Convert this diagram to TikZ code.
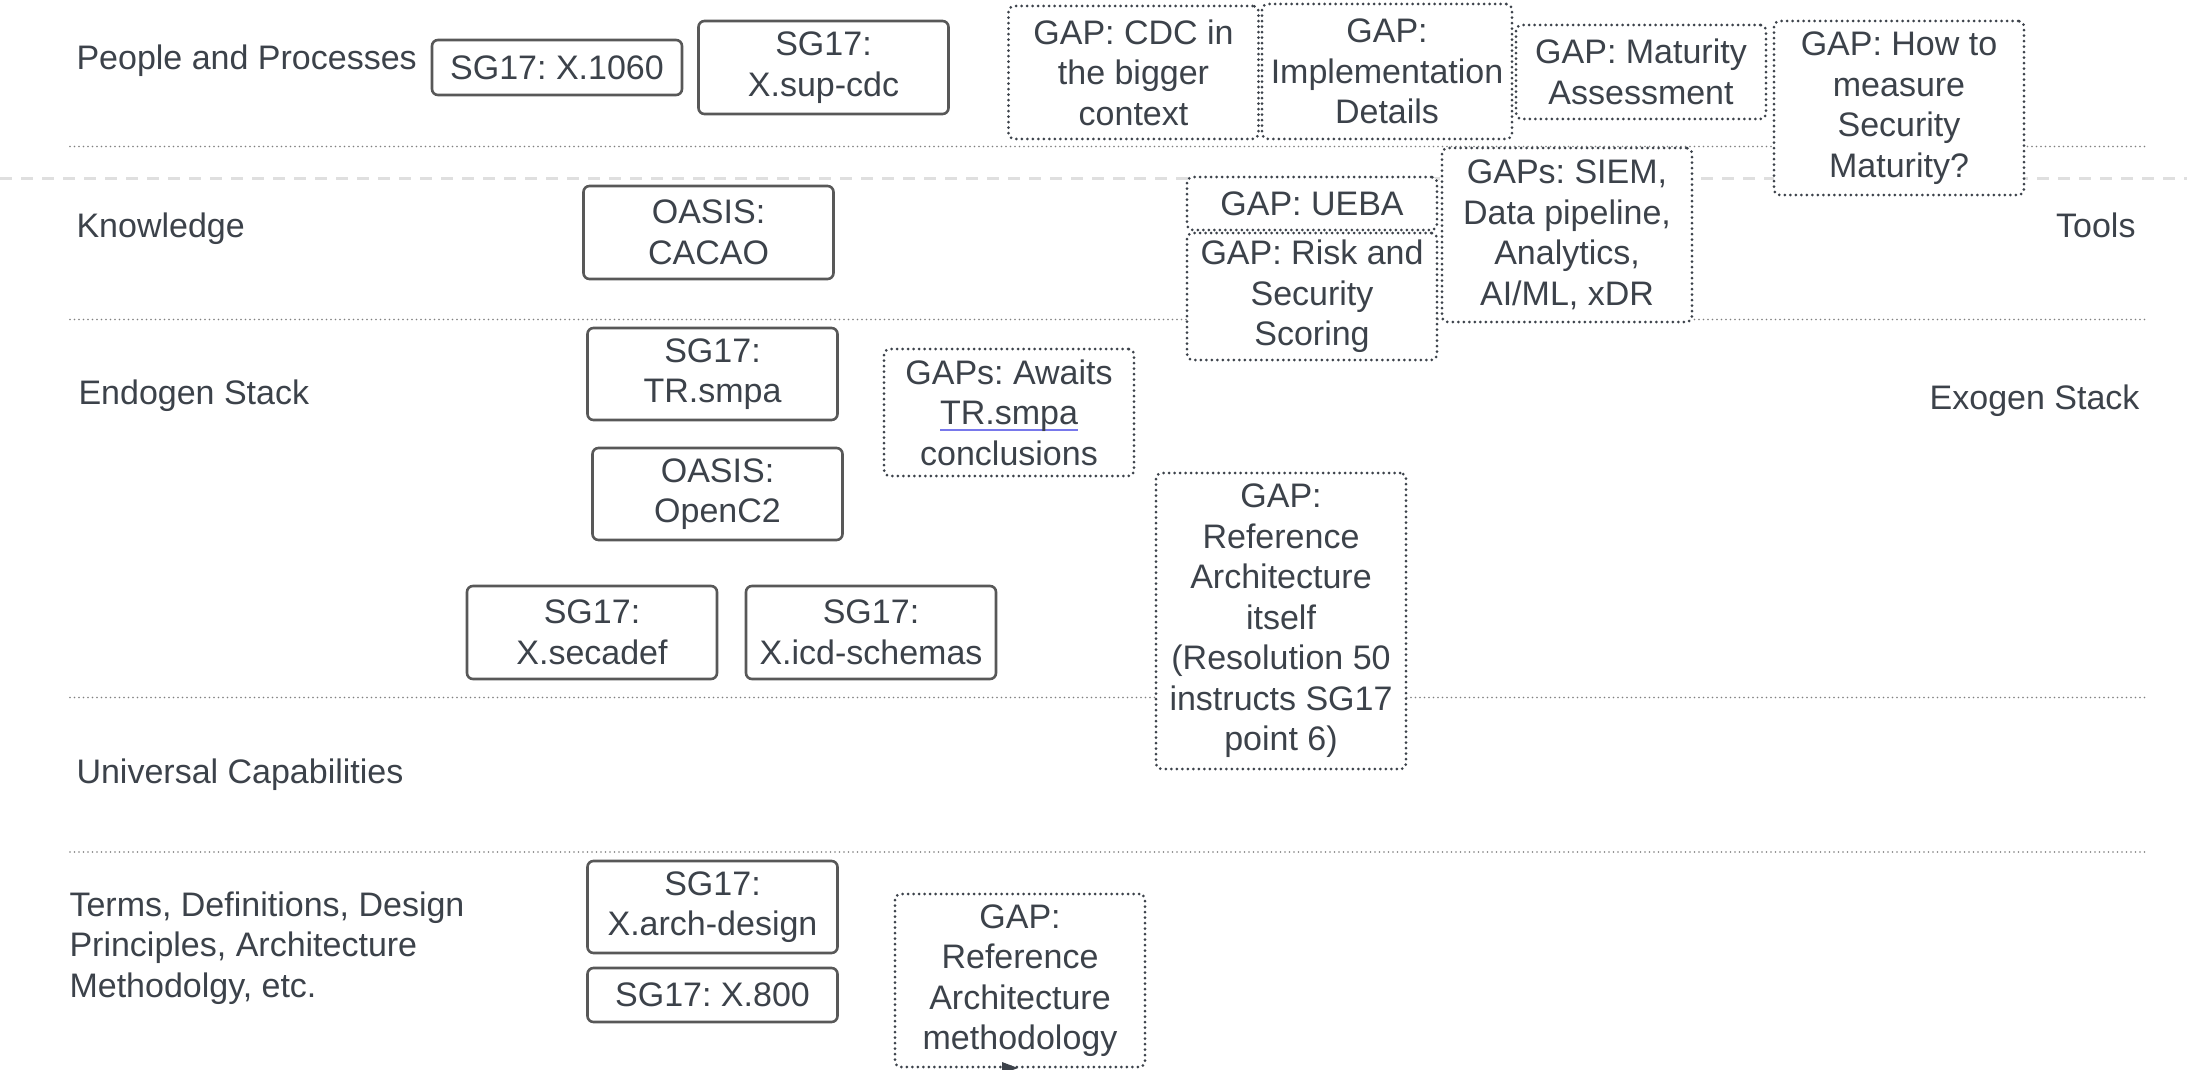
\documentclass[tikz,border=0pt]{standalone}
\usepackage{fontspec}
\setmainfont{Liberation Sans}
\usepackage{xcolor}
\frenchspacing

\definecolor{inkgray}{RGB}{60,66,74}
\definecolor{boxgray}{RGB}{88,88,88}
\definecolor{linkblue}{RGB}{120,120,235}

% blue underline under a word
\newcommand{\blueline}[1]{\setbox0\hbox{#1}\rlap{\color{linkblue}\rule[-6pt]{\wd0}{2pt}}\box0}

\begin{document}
\begin{tikzpicture}[x=1pt, y=-1pt,
  every node/.style={text=inkgray, font=\fontsize{34}{40.5}\selectfont},
  spec/.style={draw=boxgray, fill=white, line width=2.6pt, rounded corners=6pt, align=center,
    minimum width=250pt, inner sep=0pt},
  gap/.style={draw=inkgray, fill=white, line width=3pt, line cap=round, dash pattern=on 0pt off 5.5pt,
    rounded corners=6pt, align=center, minimum width=250pt, inner sep=0pt},
  row/.style={anchor=west, align=left},
  sep/.style={draw=gray, line width=1.8pt, line cap=round, dash pattern=on 0pt off 4.5pt}]

  \useasboundingbox[fill=white] (0,0) rectangle (2187,1070);

  % layer separators
  \draw[sep] (70,146.5) -- (2148,146.5);
  \draw[gray!25, line width=3pt, dash pattern=on 12pt off 9pt] (0,178.5) -- (2187,178.5);
  \draw[sep] (70,319.5) -- (2148,319.5);
  \draw[sep] (70,697.5) -- (2148,697.5);
  \draw[sep] (70,852) -- (2148,852);

  % layer names
  \node[row] (people) at (73,61) {People and Processes};
  \node[row] (knowledge) at (73,229) {Knowledge};
  \node[row] (endogen) at (75,396) {Endogen Stack};
  \node[row] (universal) at (73,775) {Universal Capabilities};
  \node[row] (terms) at (66,948) {Terms, Definitions, Design\\Principles, Architecture\\Methodolgy, etc.};
  \node[anchor=east] (tools) at (2139,225) {Tools};
  \node[anchor=east] (exogen) at (2143,401) {Exogen Stack};

  % existing specs
  \node[spec, minimum height=55pt] (x1060) at (557,67.5) {SG17: X.1060};
  \node[spec, minimum height=93pt] (supcdc) at (823.5,67.5) {SG17:\\X.sup-cdc};
  \node[spec, minimum height=93pt] (cacao) at (708.5,232.5) {OASIS:\\CACAO};
  \node[spec, minimum height=92pt] (trsmpa) at (712.5,374) {SG17:\\TR.smpa};
  \node[spec, minimum height=92pt] (openc2) at (717.5,494) {OASIS:\\OpenC2};
  \node[spec, minimum height=93pt] (secadef) at (592,632.5) {SG17:\\X.secadef};
  \node[spec, minimum height=93pt] (icd) at (871,632.5) {SG17:\\X.icd-schemas};
  \node[spec, minimum height=92pt] (archdesign) at (712.5,907) {SG17:\\X.arch-design};
  \node[spec, minimum height=54pt] (x800) at (712.5,995) {SG17: X.800};

  % gaps
  \node[gap, minimum height=133pt] (cdc) at (1133.5,72.5) {GAP: CDC in\\the bigger\\context};
  \node[gap, minimum height=135pt] (impl) at (1387,71.5) {GAP:\\Implementation\\Details};
  \node[gap, minimum height=94pt] (maturity) at (1641,72) {GAP: Maturity\\Assessment};
  \node[gap, minimum height=174pt] (measure) at (1899,108) {GAP: How to\\measure\\Security\\Maturity?};
  \node[gap, minimum height=53pt] (ueba) at (1312,203.5) {GAP: UEBA};
  \node[gap, minimum height=127pt] (scoring) at (1312,296.5) {GAP: Risk and\\Security\\Scoring};
  \node[gap, minimum height=174pt] (siem) at (1567,235) {GAPs: SIEM,\\Data pipeline,\\Analytics,\\AI/ML, xDR};
  \node[gap, minimum height=127pt] (awaits) at (1009,412.5) {GAPs: Awaits\\\blueline{TR.smpa}\\conclusions};
  \node[gap, minimum height=296pt] (refarch) at (1281,621) {GAP:\\Reference\\Architecture\\itself\\(Resolution 50\\instructs SG17\\point 6)};
  \node[gap, minimum height=173pt] (method) at (1020,980.5) {GAP:\\Reference\\Architecture\\methodology};

  % arrow tip peeking out under the methodology box
  \coordinate (tip) at (1018,1068);
  \fill[inkgray] (tip) -- ++(-16,-6) -- ++(0,12) -- cycle;
\end{tikzpicture}
\end{document}
